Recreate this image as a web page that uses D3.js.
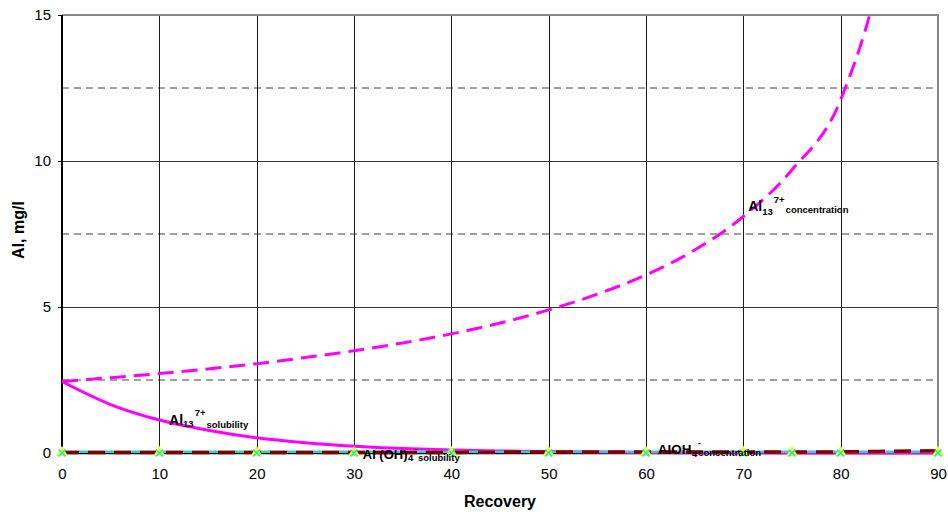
<!DOCTYPE html>
<html>
<head>
<meta charset="utf-8">
<script src="https://cdn.jsdelivr.net/npm/d3@7"></script>
<style>
  html, body { margin: 0; padding: 0; background: #fff; }
  svg { display: block; font-family: Arial, "Liberation Sans", sans-serif; }
</style>
</head>
<body>
<svg id="chart" width="948" height="515"></svg>
<script>
// Recovery (%) sample points
const recovery = [0, 5, 10, 15, 20, 25, 30, 35, 40, 45, 50, 55, 60, 65, 70, 75, 80, 85, 90];
// Al13 7+ concentration, mg/l
const al13Concentration = [2.45, 2.58, 2.72, 2.88, 3.06, 3.27, 3.5, 3.77, 4.08, 4.45, 4.9, 5.44, 6.1, 6.95, 8.1, 9.7, 12.1, 18, 30];
// Al13 7+ solubility, mg/l
const al13Solubility = [2.45, 1.66, 1.13, 0.78, 0.52, 0.35, 0.23, 0.15, 0.1, 0.07, 0.05, 0.03, 0.02, 0.01, 0.01, 0, 0, 0, 0];
// Al(OH)4- solubility, mg/l
const alOH4Solubility = [0.04, 0.04, 0.04, 0.04, 0.04, 0.04, 0.04, 0.04, 0.04, 0.04, 0.04, 0.04, 0.04, 0.04, 0.04, 0.04, 0.04, 0.04, 0.04];
// AlOH4- concentration, mg/l
const alOH4Concentration = [0.02, 0.02, 0.02, 0.02, 0.02, 0.02, 0.02, 0.02, 0.02, 0.03, 0.03, 0.03, 0.03, 0.03, 0.03, 0.03, 0.04, 0.06, 0.08];
// Marker-only series
const markerRecovery = [0, 10, 20, 30, 40, 50, 60, 70, 75, 80, 90];
const markerValues = [0, 0, 0, 0, 0, 0, 0, 0, 0, 0, 0];

const xTicks = [0, 10, 20, 30, 40, 50, 60, 70, 80, 90];
const yTicks = [0, 5, 10, 15];
const yMinorGrid = [2.5, 7.5, 12.5];

const svg = d3.select("#chart");
const x = d3.scaleLinear().domain([0, 90]).range([62, 938]);
const y = d3.scaleLinear().domain([0, 15]).range([453, 15]);

// clip region for the plotted series
svg.append("defs").append("clipPath").attr("id", "plotClip")
  .append("rect").attr("x", x(0) - 6).attr("y", y(15) - 3)
  .attr("width", x(90) - x(0) + 12).attr("height", y(0) - y(15) + 10);

// gridlines
const grid = svg.append("g");
grid.selectAll("line.minor").data(yMinorGrid).enter().append("line")
  .attr("x1", x(0)).attr("x2", x(90)).attr("y1", d => y(d)).attr("y2", d => y(d))
  .attr("stroke", "#444").attr("stroke-width", 1).attr("stroke-dasharray", "7,5");
grid.selectAll("line.hmajor").data([5, 10]).enter().append("line")
  .attr("x1", x(0)).attr("x2", x(90)).attr("y1", d => y(d) + 0.5).attr("y2", d => y(d) + 0.5)
  .attr("stroke", "#333").attr("stroke-width", 1);
grid.selectAll("line.vmajor").data(xTicks.filter(d => d > 0 && d < 90)).enter().append("line")
  .attr("x1", d => Math.round(x(d)) + 0.5).attr("x2", d => Math.round(x(d)) + 0.5)
  .attr("y1", y(15)).attr("y2", y(0))
  .attr("stroke", "#1a1a1a").attr("stroke-width", 1);
// plot border (top and right)
grid.append("path")
  .attr("d", `M${x(0)},${y(15)}H${x(90)}V${y(0)}`)
  .attr("fill", "none").attr("stroke", "#888").attr("stroke-width", 2);

// axes
const yAxis = svg.append("g").attr("transform", `translate(${x(0)},0)`)
  .call(d3.axisLeft(y).tickValues(yTicks).tickSize(4).tickPadding(7).tickFormat(d3.format("d")));
yAxis.select(".domain").attr("stroke", "#000").attr("stroke-width", 2)
  .attr("d", `M0,${y(15)}V${y(0)}`);
yAxis.selectAll(".tick line").attr("stroke", "#000");
yAxis.selectAll(".tick text").attr("font-size", 15).attr("fill", "#000")
  .attr("font-family", "Arial, 'Liberation Sans', sans-serif");

const xAxis = svg.append("g").attr("transform", `translate(0,${y(0)})`)
  .call(d3.axisBottom(x).tickValues(xTicks).tickSize(0).tickPadding(15).tickFormat(d3.format("d")));
xAxis.select(".domain").attr("stroke", "#000").attr("stroke-width", 1.5);
xAxis.selectAll(".tick text").attr("font-size", 15).attr("fill", "#000")
  .attr("font-family", "Arial, 'Liberation Sans', sans-serif");

// axis titles
svg.append("text").attr("x", 500).attr("y", 507).attr("text-anchor", "middle")
  .attr("font-size", 16).attr("font-weight", "bold").text("Recovery");
svg.append("text").attr("transform", "translate(24,230) rotate(-90)").attr("text-anchor", "middle")
  .attr("font-size", 16).attr("font-weight", "bold").text("Al, mg/l");

// series
const series = svg.append("g").attr("clip-path", "url(#plotClip)");
const lineOf = vals => d3.line()
  .x((d, i) => x(recovery[i]))
  .y(d => y(d))
  .curve(d3.curveMonotoneX)(vals);

series.append("path").attr("d", lineOf(al13Concentration))
  .attr("fill", "none").attr("stroke", "#FF00FF").attr("stroke-width", 3)
  .attr("stroke-dasharray", "16,8");
series.append("path").attr("d", lineOf(al13Solubility))
  .attr("fill", "none").attr("stroke", "#FF00FF").attr("stroke-width", 3);
series.append("path").attr("d", lineOf(alOH4Solubility))
  .attr("fill", "none").attr("stroke", "#33CCCC").attr("stroke-width", 2.5);
series.append("path").attr("d", lineOf(alOH4Concentration))
  .attr("fill", "none").attr("stroke", "#800000").attr("stroke-width", 3.5)
  .attr("stroke-dasharray", "17,9");

// markers: yellow triangles under cyan crosses
const markers = svg.append("g");
const tri = d3.symbol().type(d3.symbolTriangle).size(60);
markers.selectAll("path.tri").data(markerValues).enter().append("path")
  .attr("transform", (d, i) => `translate(${x(markerRecovery[i])},${y(d) - 0.5})`)
  .attr("d", tri).attr("fill", "#FFFF00");
markers.selectAll("path.cross").data(markerValues).enter().append("path")
  .attr("transform", (d, i) => `translate(${x(markerRecovery[i])},${y(d)})`)
  .attr("d", "M-3.5,-3.5L3.5,3.5M-3.5,3.5L3.5,-3.5")
  .attr("stroke", "#00E5FF").attr("stroke-width", 1.6).attr("fill", "none");

// in-plot labels; parts are laid out left to right, "stack" parts do not advance
const labelDefs = [
  { rx: 11, v: 0.96, parts: [
    { t: "Al", dy: 0, fs: 14 },
    { t: "13", dy: 2.5, fs: 9.5 },
    { t: "7+", dy: -9, fs: 9.5, gap: 1 },
    { t: "solubility", dy: 3, fs: 9.5, gap: 1 }] },
  { rx: 30.9, v: -0.2, parts: [
    { t: "Al (OH)", dy: 0, fs: 13 },
    { t: "4", dy: 2.5, fs: 9.5, gap: 0.5 },
    { t: "-", dy: -7, fs: 9.5, gap: 1 },
    { t: "solubility", dy: 2, fs: 9.5, gap: 0.5 }] },
  { rx: 61.2, v: -0.03, parts: [
    { t: "AlOH", dy: 0, fs: 13.5 },
    { t: "4", dy: 2.7, fs: 9.5, gap: 0.5 },
    { t: "-", dy: -8, fs: 9.5, gap: 0.5, stack: true },
    { t: "concentration", dy: 2, fs: 9.5, gap: 1 }] },
  { rx: 70.5, v: 8.3, parts: [
    { t: "Al", dy: 0, fs: 14 },
    { t: "13", dy: 4.3, fs: 9.5 },
    { t: "7+", dy: -7.7, fs: 9.5, gap: 1 },
    { t: "concentration", dy: 2.3, fs: 9.5, gap: 1 }] }
];
const labels = svg.append("g");
labelDefs.forEach(def => {
  const g = labels.append("g").attr("transform", `translate(${x(def.rx)},${y(def.v)})`);
  let cursor = 0;
  def.parts.forEach(p => {
    const px = cursor + (p.gap || 0);
    const t = g.append("text").attr("x", px).attr("y", p.dy)
      .attr("font-size", p.fs).attr("font-weight", "bold").attr("fill", "#000").text(p.t);
    if (!p.stack) cursor = px + t.node().getComputedTextLength();
  });
});
</script>
</body>
</html>
